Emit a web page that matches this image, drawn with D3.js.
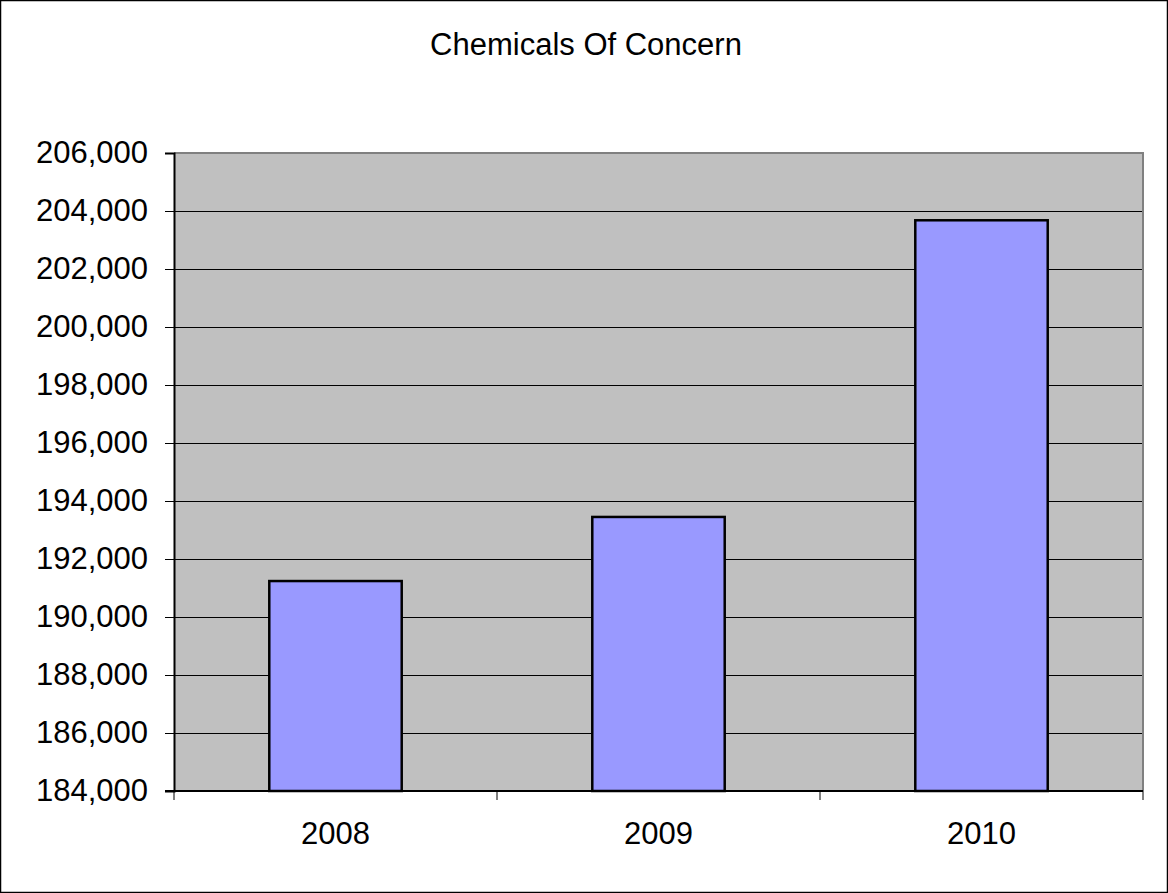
<!DOCTYPE html>
<html><head><meta charset="utf-8">
<script src="https://cdn.jsdelivr.net/npm/d3@7"></script>
<style>body{margin:0;background:#fff}svg{display:block}</style>
</head><body><svg id="c" width="1168" height="893"></svg>
<script>
const categories = ["2008", "2009", "2010"];
const values = [191240, 193450, 203680];
const yTicks = [184000,186000,188000,190000,192000,194000,196000,198000,200000,202000,204000,206000];
const title = "Chemicals Of Concern";

const svg = d3.select("#c");
const W = 1168, H = 893;
const m = {left: 174, right: 1143, top: 153, bottom: 791};
const font = "'Liberation Sans', Arial, sans-serif";
const fs = 31;

svg.append("rect").attr("x",0.5).attr("y",0.5).attr("width",W-1).attr("height",H-1)
  .attr("fill","#fff").attr("stroke","#000").attr("stroke-width",1.5);

svg.append("text").attr("x",586).attr("y",55).attr("text-anchor","middle")
  .attr("font-family",font).attr("font-size",fs).attr("fill","#000").text(title);

const x = d3.scaleBand().domain(categories).range([m.left, m.right]).paddingInner(0.59).paddingOuter(0.295);
const y = d3.scaleLinear().domain([184000, 206000]).range([m.bottom, m.top]);

svg.append("rect").attr("x",m.left).attr("y",m.top).attr("width",m.right-m.left).attr("height",m.bottom-m.top)
  .attr("fill","#c0c0c0");

// gridlines
svg.append("g").selectAll("line").data(yTicks.slice(1)).join("line")
  .attr("x1",m.left).attr("x2",m.right).attr("y1",d=>Math.round(y(d))+0.5).attr("y2",d=>Math.round(y(d))+0.5)
  .attr("stroke","#000").attr("stroke-width",1);

// plot border top/right
svg.append("path").attr("d",`M${m.left},${m.top}H${m.right}V${m.bottom}`).attr("fill","none")
  .attr("stroke","#808080").attr("stroke-width",2);

// bars
svg.append("g").selectAll("rect").data(values).join("rect")
  .attr("x",(d,i)=>x(categories[i])).attr("width",x.bandwidth())
  .attr("y",d=>y(d)).attr("height",d=>y(184000)-y(d))
  .attr("fill","#9999ff").attr("stroke","#000").attr("stroke-width",2.5);

// y axis
const fmt = d3.format(",");
const ya = svg.append("g").attr("transform",`translate(${m.left},0)`)
  .call(d3.axisLeft(y).tickValues(yTicks).tickFormat(fmt).tickSize(9).tickPadding(17));
ya.select(".domain").attr("stroke","#000").attr("stroke-width",2);
ya.selectAll(".tick line").attr("stroke","#000").attr("stroke-width",1);
ya.selectAll("text").attr("font-family",font).attr("font-size",fs).attr("fill","#000").attr("dy","0.3em");

// x axis
const xb = d3.scaleLinear().domain([0,3]).range([m.left, m.right]);
const xa = svg.append("g").attr("transform",`translate(0,${m.bottom})`);
xa.append("line").attr("x1",m.left-9).attr("x2",m.right).attr("y1",0).attr("y2",0).attr("stroke","#000").attr("stroke-width",2);
xa.selectAll("line.t").data([0,1,2,3]).join("line").attr("class","t")
  .attr("x1",d=>xb(d)).attr("x2",d=>xb(d)).attr("y1",0).attr("y2",9).attr("stroke","#000").attr("stroke-width",1);
xa.selectAll("text").data(categories).join("text")
  .attr("x",d=>x(d)+x.bandwidth()/2).attr("y",53).attr("text-anchor","middle")
  .attr("font-family",font).attr("font-size",fs).attr("fill","#000").text(d=>d);
</script></body></html>
